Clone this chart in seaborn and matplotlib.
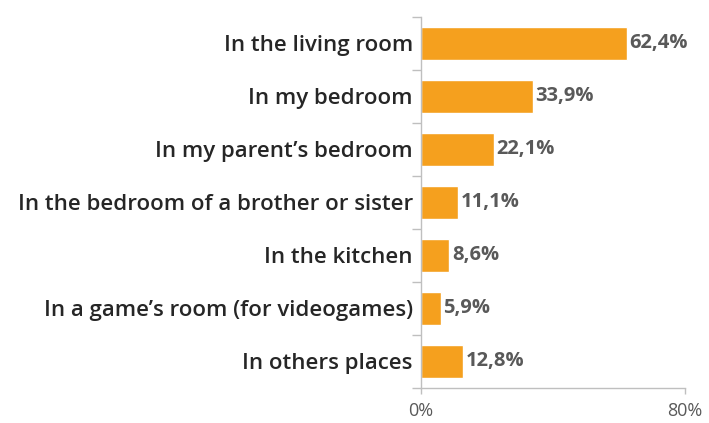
import matplotlib
matplotlib.use("Agg")
import matplotlib.pyplot as plt
import seaborn as sns
import pandas as pd
import numpy as np

places = [
    "In the living room",
    "In my bedroom",
    "In my parent\u2019s bedroom",
    "In the bedroom of a brother or sister",
    "In the kitchen",
    "In a game\u2019s room (for videogames)",
    "In others places",
]
shares = [62.4, 33.9, 22.1, 11.1, 8.6, 5.9, 12.8]
x_ticks = [0, 80]
x_tick_labels = ["0%", "80%"]

df = pd.DataFrame({"place": places, "share": shares})

sns.set_theme(style="white")
plt.rcParams["font.family"] = ["Open Sans", "DejaVu Sans"]

fig = plt.figure(figsize=(7.09, 4.23), dpi=100)
ax = fig.add_axes([0.594, 0.083, 0.372, 0.877])

bar_color = "#F5A01E"
sns.barplot(data=df, x="share", y="place", orient="h", color=bar_color,
            width=0.62, saturation=1, ax=ax)

ax.set_xlim(0, 80)
ax.set_ylim(len(places) - 0.5, -0.5)
ax.set_xticks(x_ticks)
ax.set_xticklabels(x_tick_labels, fontsize=13, color="#595959")
ax.set_xlabel("")
ax.set_ylabel("")

ax.set_yticks(range(len(places)))
ax.set_yticklabels(places, fontsize=16, color="#262626", fontweight="semibold")
ax.tick_params(axis="y", which="major", left=False, length=0, pad=6)
ax.set_yticks(np.arange(-0.5, len(places), 1.0), minor=True)
ax.tick_params(axis="y", which="minor", left=True, length=6.5, color="#BFBFBF", width=1)
ax.tick_params(axis="x", which="major", bottom=True, length=4, color="#BFBFBF",
               width=1, pad=6)

for side in ["top", "right"]:
    ax.spines[side].set_visible(False)
for side in ["left", "bottom"]:
    ax.spines[side].set_color("#BFBFBF")
    ax.spines[side].set_linewidth(1)

for i, v in enumerate(shares):
    ax.text(v + 0.8, i, f"{v:.1f}%".replace(".", ","), va="center", ha="left",
            fontsize=14.5, fontweight="bold", color="#595959")

fig.savefig("out.png", dpi=100, facecolor="white")
